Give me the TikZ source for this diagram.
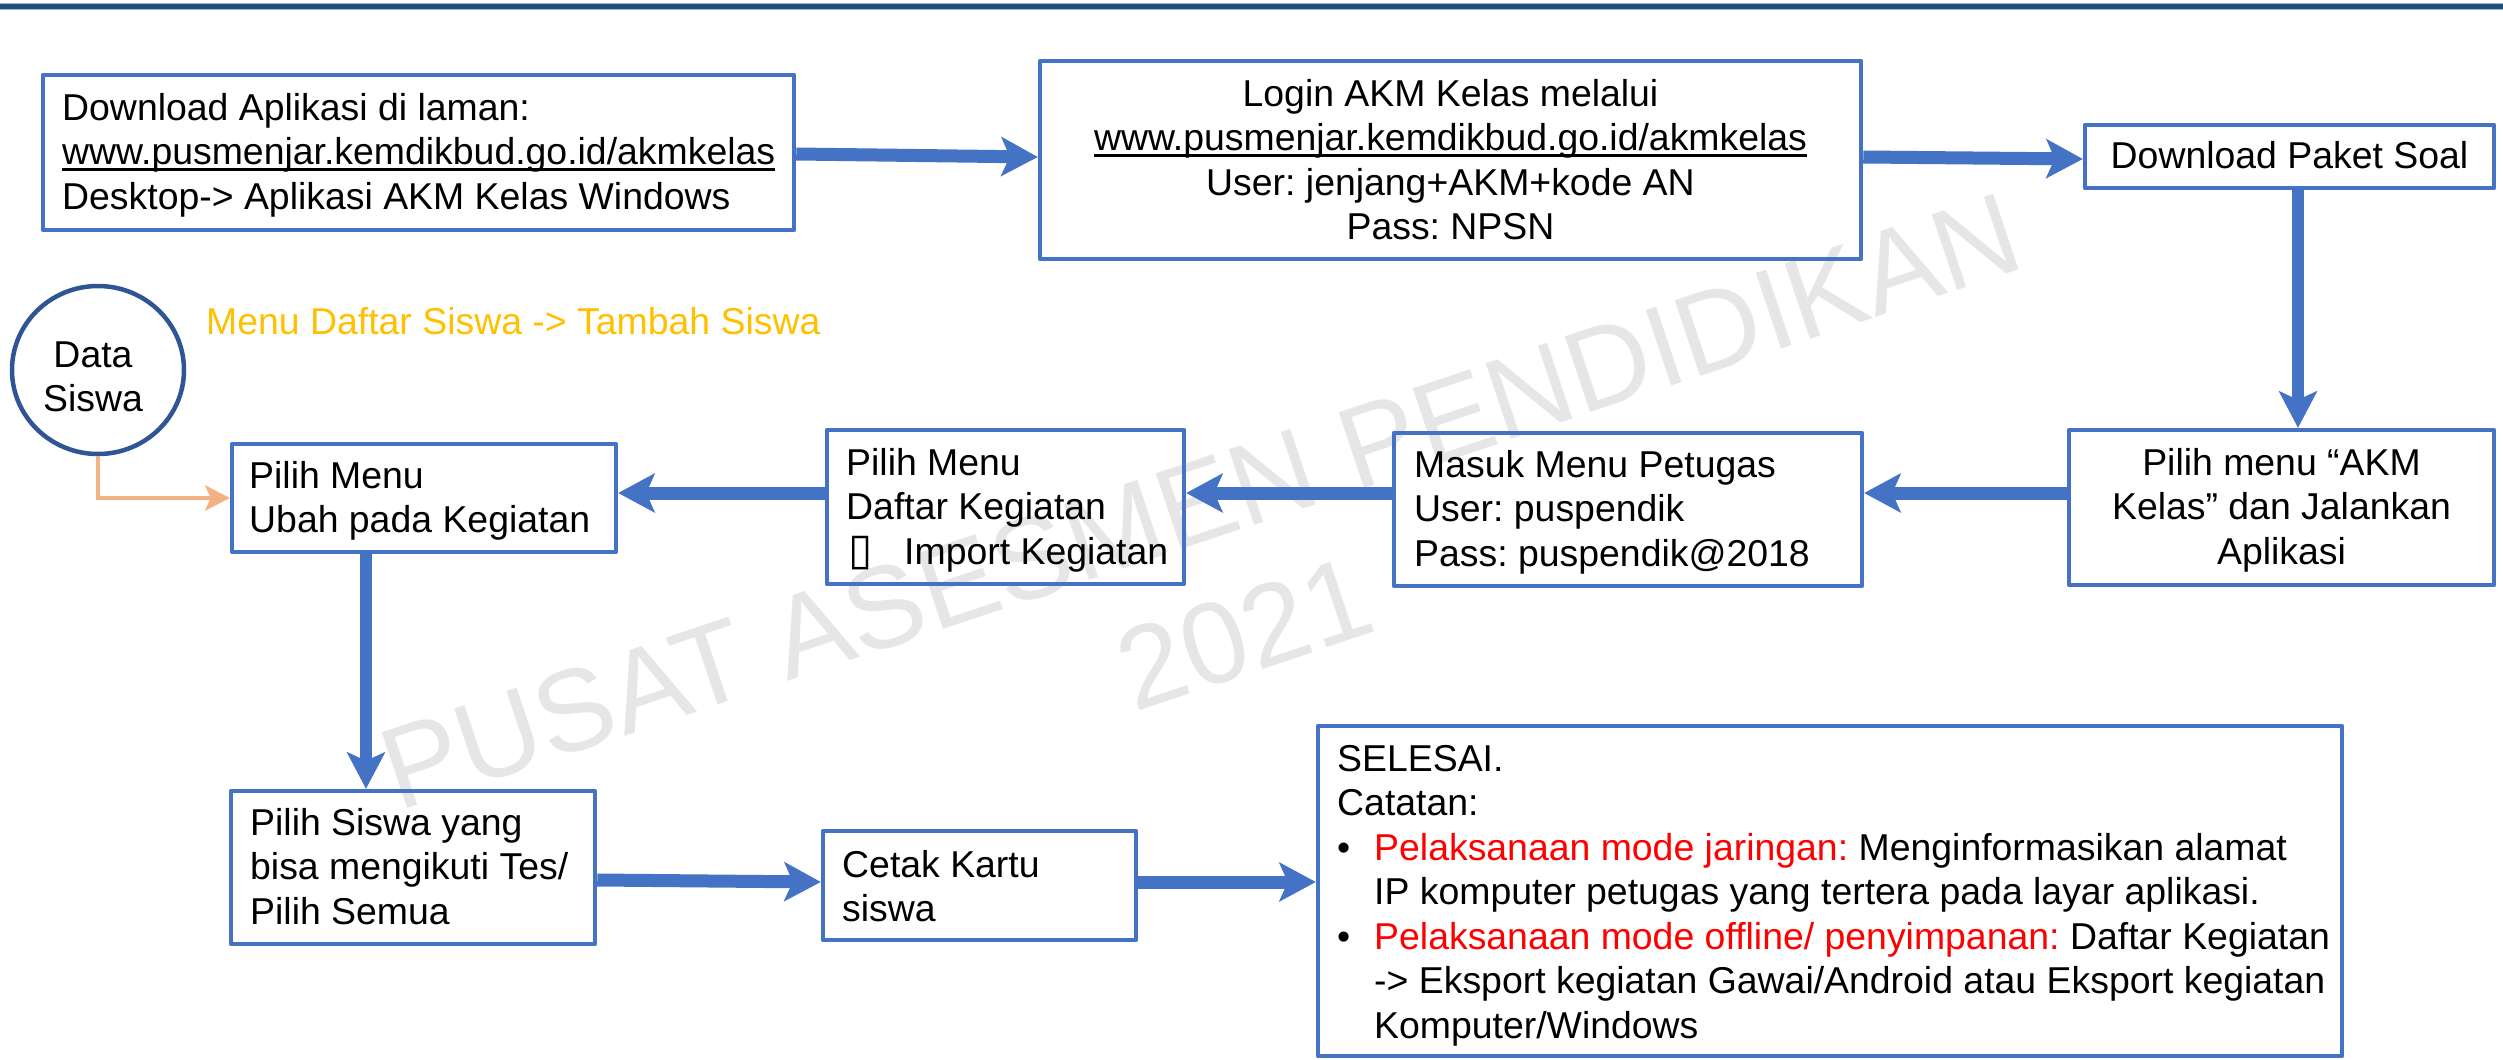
\documentclass[tikz,border=0pt]{standalone}
\usepackage{fontspec}
\setmainfont{Liberation Sans}
\newfontfamily\dejavu{DejaVu Sans}
\usetikzlibrary{arrows.meta,shapes.geometric,calc}
\definecolor{boxblue}{HTML}{4472C4}
\definecolor{circblue}{HTML}{2F5597}
\definecolor{orangeln}{HTML}{F4B183}
\definecolor{goldtxt}{HTML}{FFC000}
\definecolor{redtxt}{HTML}{FF0000}
\definecolor{wmgray}{HTML}{E6E6E6}
\definecolor{banddark}{HTML}{1F4E79}
\definecolor{bandlight}{HTML}{9DB6D8}
\newlength\ulw
\newcommand\myul[1]{\leavevmode\settowidth{\ulw}{#1}\rlap{\rule[-6pt]{\ulw}{2.3pt}}#1}
\newcommand\mylines[2]{\parbox[t]{#1}{#2}}
\newcommand\bfs{\fontsize{37.4pt}{44.5pt}\selectfont\frenchspacing}
\begin{document}
\begin{tikzpicture}[x=1pt,y=-1pt,
  box/.style={draw=boxblue, line width=4.5pt, rectangle, inner sep=0pt, line join=round},
  bigarrow/.style={draw=boxblue, line width=13pt, -{Stealth[length=37pt,width=40pt,inset=9pt,line width=0pt]}},
  vertarrow/.style={draw=boxblue, line width=11.5pt, -{Stealth[length=37pt,width=39pt,inset=9pt,line width=0pt]}},
  orarrow/.style={draw=orangeln, line width=4.5pt, -{Stealth[length=25pt,width=26pt,inset=6pt,line width=0pt]}},
  txtl/.style={inner sep=0pt, anchor=base west, font=\bfs},
  txtc/.style={inner sep=0pt, anchor=base, font=\bfs},
  wm/.style={inner sep=0pt, text=wmgray, rotate=18.5, font=\fontsize{116pt}{139pt}\selectfont}]
\useasboundingbox (0,0) rectangle (2503,1060);
% top band
\fill[bandlight] (0,2.5) rectangle (2503,10);
\fill[banddark] (0,3.5) rectangle (2503,8.8);
% watermark
\node[wm, anchor=base west] (wm1) at (398,812) {PUSAT ASESMEN PENDIDIKAN};
\path (wm1.base) ++(-71.5:139pt) node[wm, anchor=base] (wm2) {2021};
% boxes
\node[box, minimum width=751pt, minimum height=155pt] (b1) at (418.5,152.5) {};
\node[box, minimum width=821pt, minimum height=198pt] (login) at (1450.5,160) {};
\node[box, minimum width=409pt, minimum height=63pt] (dps) at (2289.5,156.5) {};
\node[box, minimum width=425pt, minimum height=155pt] (akm) at (2281.5,507.5) {};
\node[box, minimum width=468pt, minimum height=153pt] (masuk) at (1628,509.5) {};
\node[box, minimum width=357pt, minimum height=154pt] (daftar) at (1005.5,507) {};
\node[box, minimum width=384pt, minimum height=108pt] (ubah) at (424,498) {};
\node[box, minimum width=364pt, minimum height=153pt] (siswa) at (413,867.5) {};
\node[box, minimum width=313pt, minimum height=109pt] (cetak) at (979.5,885.5) {};
\node[box, minimum width=1024pt, minimum height=330pt] (selesai) at (1830,891) {};
\node[draw=circblue, line width=4.5pt, ellipse, inner sep=0pt, minimum width=172pt, minimum height=168pt] (data) at (98,370) {};
% helper coordinates
\coordinate (ya) at (0,154);
\coordinate (yb) at (0,157);
\coordinate (yc) at (0,159);
\coordinate (yd) at (0,493);
\coordinate (ye) at (0,880);
\coordinate (yf) at (0,882);
\coordinate (xa) at (2298,0);
\coordinate (xb) at (366,0);
% arrows
\draw[bigarrow] (b1.east |- ya) -- (login.west |- yb);
\draw[bigarrow] (login.east |- yb) -- (dps.west |- yc);
\draw[vertarrow] (dps.south -| xa) -- (akm.north -| xa);
\draw[bigarrow] (akm.west |- yd) -- (masuk.east |- yd);
\draw[bigarrow] (masuk.west |- yd) -- (daftar.east |- yd);
\draw[bigarrow] (daftar.west |- yd) -- (ubah.east |- yd);
\draw[vertarrow] (ubah.south -| xb) -- (siswa.north -| xb);
\draw[bigarrow] (siswa.east |- ye) -- (cetak.west |- yf);
\draw[bigarrow] (cetak.east |- yf) -- (selesai.west |- yf);
\draw[orarrow] (data.south) |- (ubah.west);
% texts
\node[txtl] (t1) at (62,120) {\mylines{740pt}{\raggedright Download Aplikasi di laman:\\\myul{www.pusmenjar.kemdikbud.go.id/akmkelas}\\Desktop-> Aplikasi AKM Kelas Windows}};
\node[txtc] (t2) at (1450.5,106) {\mylines{800pt}{\centering Login AKM Kelas melalui\\\myul{www.pusmenjar.kemdikbud.go.id/akmkelas}\\User: jenjang+AKM+kode AN\\Pass: NPSN}};
\node[txtc] (t3) at (2289.5,168) {Download Paket Soal};
\node[txtc] (t4) at (2281.5,475) {\mylines{420pt}{\centering Pilih menu “AKM\\Kelas” dan Jalankan\\Aplikasi}};
\node[txtl] (t5) at (1414,477) {\mylines{440pt}{\raggedright Masuk Menu Petugas\\User: puspendik\\Pass: puspendik@2018}};
\node[txtl] (t6) at (846,475) {\mylines{340pt}{\raggedright Pilih Menu\\Daftar Kegiatan\\\makebox[58pt][l]{\hspace*{2pt}{\dejavu\fontsize{44pt}{44pt}\selectfont ▯}}Import Kegiatan}};
\node[txtl] (t7) at (249,488) {\mylines{370pt}{\raggedright Pilih Menu\\Ubah pada Kegiatan}};
\node[txtl] (t8) at (250,835) {\mylines{350pt}{\raggedright Pilih Siswa yang\\bisa mengikuti Tes/\\Pilih Semua}};
\node[txtl] (t9) at (842,877) {\mylines{290pt}{\raggedright Cetak Kartu\\siswa}};
\node[txtl] (t10) at (1337,771) {\mylines{1000pt}{\raggedright SELESAI.\\Catatan:\\\makebox[37pt][l]{\textbullet}\textcolor{redtxt}{Pelaksanaan mode jaringan:} Menginformasikan alamat\\\hspace*{37pt}IP komputer petugas yang tertera pada layar aplikasi.\\\makebox[37pt][l]{\textbullet}\textcolor{redtxt}{Pelaksanaan mode offline/ penyimpanan:} Daftar Kegiatan\\\hspace*{37pt}-> Eksport kegiatan Gawai/Android atau Eksport kegiatan\\\hspace*{37pt}Komputer/Windows}};
\node[txtl, text=goldtxt] (t11) at (206,334) {Menu Daftar Siswa -> Tambah Siswa};
\node[txtc] (t12) at (93,367) {\mylines{150pt}{\centering Data\\Siswa}};
\end{tikzpicture}
\end{document}
